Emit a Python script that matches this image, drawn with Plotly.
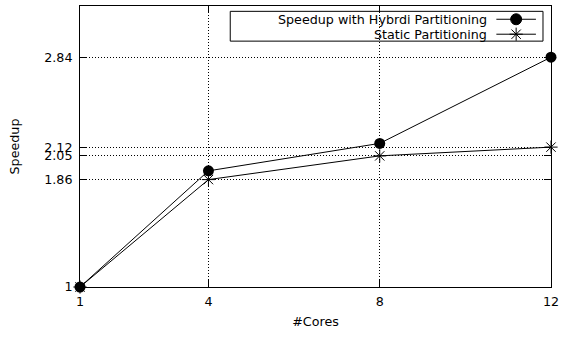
import plotly.graph_objects as go

cores = [1, 4, 8, 12]
hybrid = [1.0, 1.93, 2.15, 2.84]
static = [1.0, 1.86, 2.05, 2.12]
ytick_vals = [1, 1.86, 2.05, 2.12, 2.84]
ytick_text = ["1", "1.86", "2.05", "2.12", "2.84"]
xtick_vals = [1, 4, 8, 12]
names = ["Speedup with Hybrdi Partitioning", "Static Partitioning"]

FONT = dict(family="DejaVu Sans", size=12.7, color="black")

fig = go.Figure()
fig.add_trace(go.Scatter(x=cores, y=hybrid, mode="lines+markers", name=names[0],
                         line=dict(color="black", width=1),
                         marker=dict(symbol="circle", size=11, color="black"),
                         showlegend=False, cliponaxis=False))
fig.add_trace(go.Scatter(x=cores, y=static, mode="lines+markers", name=names[1],
                         line=dict(color="black", width=1),
                         marker=dict(symbol="asterisk-open", size=11, color="black",
                                     line=dict(color="black", width=1)),
                         showlegend=False, cliponaxis=False))

# custom gnuplot-style legend (text left, sample right)
leg_rows = [0.9528, 0.8996]
fig.add_shape(type="rect", xref="paper", yref="paper", x0=0.319, x1=0.983, y0=0.875, y1=0.981,
              line=dict(color="black", width=1), fillcolor="white", layer="between")
for i, nm in enumerate(names):
    fig.add_annotation(x=0.866, y=leg_rows[i], xref="paper", yref="paper", text=nm,
                       showarrow=False, xanchor="right", yanchor="middle", font=FONT,
                       borderpad=0)
symbols = ["circle", "asterisk-open"]
for i in range(2):
    fig.add_trace(go.Scatter(x=[0.884, 0.968], y=[leg_rows[i]] * 2, mode="lines",
                             line=dict(color="black", width=1), xaxis="x2", yaxis="y2",
                             showlegend=False, hoverinfo="skip"))
    fig.add_trace(go.Scatter(x=[0.926], y=[leg_rows[i]], mode="markers",
                             marker=dict(symbol=symbols[i], size=11, color="black",
                                         line=dict(color="black", width=1)),
                             xaxis="x2", yaxis="y2", showlegend=False, hoverinfo="skip"))

axis_common = dict(showline=True, linecolor="black", linewidth=1, mirror="allticks",
                   ticks="inside", ticklen=7, tickcolor="black", tickwidth=1,
                   showgrid=True, gridcolor="black", gridwidth=1, griddash="1px,2px",
                   zeroline=False, tickfont=FONT)

fig.update_layout(
    width=564, height=337,
    margin=dict(l=80, r=9, t=5, b=50),
    plot_bgcolor="white", paper_bgcolor="white",
    font=FONT,
    xaxis=dict(range=[1, 12], tickmode="array", tickvals=xtick_vals, ticklabelstandoff=3,
               title=dict(text="#Cores", font=FONT, standoff=8), **axis_common),
    yaxis=dict(range=[1, 3.25], tickmode="array", tickvals=ytick_vals, ticktext=ytick_text,
               ticklabelstandoff=4,
               title=dict(text="Speedup", font=FONT, standoff=21), **axis_common),
    xaxis2=dict(range=[0, 1], overlaying="x", visible=False, fixedrange=True),
    yaxis2=dict(range=[0, 1], overlaying="y", visible=False, fixedrange=True),
    showlegend=False,
)

fig.write_html("out.html")
